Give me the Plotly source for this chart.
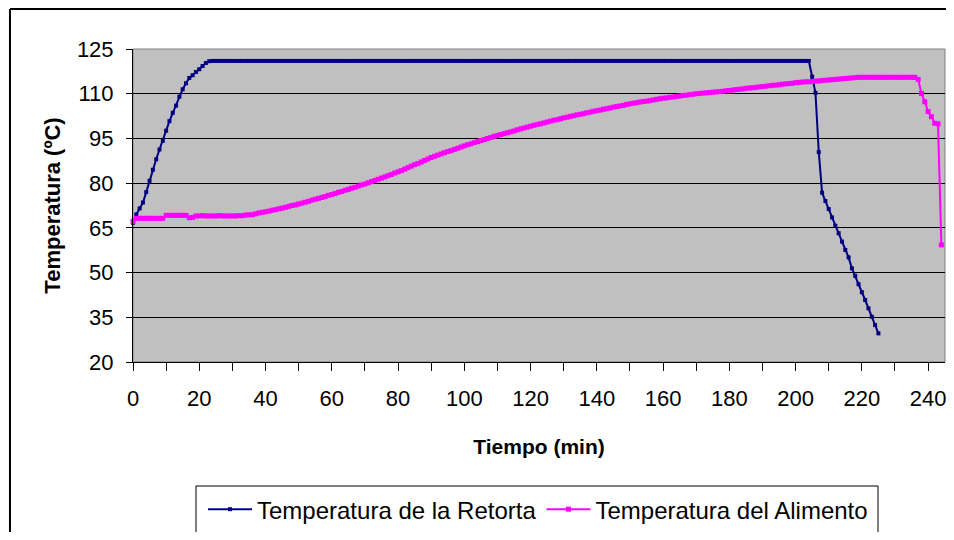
import plotly.graph_objects as go

# ---------------- data ----------------
minutes_retorta = list(range(0, 226))
retorta = [
    66.7, 69.5, 71.5, 73.5, 77.0, 80.8, 84.5, 88.0, 91.3, 94.2,
    97.6, 100.8, 103.6, 106.0, 109.0, 111.5, 113.5, 115.3, 116.2, 117.3,
    118.2, 119.3, 120.3, 120.9, 121.0,
    121, 121, 121, 121, 121, 121, 121, 121, 121, 121,
    121, 121, 121, 121, 121, 121, 121, 121, 121, 121,
    121, 121, 121, 121, 121, 121, 121, 121, 121, 121,
    121, 121, 121, 121, 121, 121, 121, 121, 121, 121,
    121, 121, 121, 121, 121, 121, 121, 121, 121, 121,
    121, 121, 121, 121, 121, 121, 121, 121, 121, 121,
    121, 121, 121, 121, 121, 121, 121, 121, 121, 121,
    121, 121, 121, 121, 121, 121, 121, 121, 121, 121,
    121, 121, 121, 121, 121, 121, 121, 121, 121, 121,
    121, 121, 121, 121, 121, 121, 121, 121, 121, 121,
    121, 121, 121, 121, 121, 121, 121, 121, 121, 121,
    121, 121, 121, 121, 121, 121, 121, 121, 121, 121,
    121, 121, 121, 121, 121, 121, 121, 121, 121, 121,
    121, 121, 121, 121, 121, 121, 121, 121, 121, 121,
    121, 121, 121, 121, 121, 121, 121, 121, 121, 121,
    121, 121, 121, 121, 121, 121, 121, 121, 121, 121,
    121, 121, 121, 121, 121, 121, 121, 121, 121, 121,
    121, 121, 121, 121, 121, 121, 121, 121, 121, 121,
    115.7, 110.3, 90.4, 76.8, 74.0, 71.3, 68.5, 65.7, 63.2, 60.4,
    57.6, 55.1, 51.4, 48.9, 46.1, 43.4, 40.8, 38.0, 35.2, 32.4,
    29.6,
]

minutes_alimento = list(range(0, 245))
alimento = [
    67.2, 68.2, 68.2, 68.2, 68.2, 68.2, 68.2, 68.2, 68.2, 68.2,
    69.2, 69.2, 69.2, 69.2, 69.2, 69.2, 69.2, 68.4, 68.5, 69.0,
    69.0, 69.1, 69.0, 69.0, 69.0, 69.0, 69.1, 69.0, 69.0, 69.0,
    69.0, 69.0, 69.1, 69.1, 69.3, 69.4, 69.4, 69.7, 70.0, 70.2,
    70.4, 70.6, 70.9, 71.1, 71.4, 71.6, 71.9, 72.2, 72.5, 72.7,
    73.0, 73.3, 73.6, 73.9, 74.3, 74.6, 74.9, 75.2, 75.5, 75.9,
    76.2, 76.5, 76.9, 77.2, 77.6, 77.9, 78.3, 78.6, 79.0, 79.4,
    79.7, 80.1, 80.5, 80.9, 81.3, 81.7, 82.1, 82.5, 82.9, 83.4,
    83.8, 84.2, 84.7, 85.2, 85.7, 86.2, 86.6, 87.1, 87.6, 88.1,
    88.6, 89.0, 89.4, 89.8, 90.2, 90.6, 90.9, 91.3, 91.7, 92.1,
    92.5, 92.9, 93.2, 93.6, 93.9, 94.3, 94.6, 95.0, 95.3, 95.7,
    96.0, 96.3, 96.6, 96.9, 97.2, 97.5, 97.9, 98.2, 98.5, 98.8,
    99.1, 99.4, 99.7, 99.9, 100.2, 100.5, 100.8, 101.1, 101.3, 101.6,
    101.9, 102.1, 102.4, 102.6, 102.9, 103.1, 103.3, 103.6, 103.8, 104.1,
    104.3, 104.5, 104.8, 105.0, 105.2, 105.5, 105.7, 105.9, 106.1, 106.4,
    106.6, 106.8, 107.0, 107.2, 107.4, 107.5, 107.7, 107.9, 108.1, 108.3,
    108.5, 108.6, 108.8, 108.9, 109.1, 109.2, 109.4, 109.5, 109.7, 109.8,
    110.0, 110.1, 110.2, 110.3, 110.4, 110.5, 110.6, 110.7, 110.8, 111.0,
    111.1, 111.2, 111.4, 111.5, 111.6, 111.8, 111.9, 112.0, 112.1, 112.3,
    112.4, 112.5, 112.7, 112.8, 112.9, 113.0, 113.2, 113.3, 113.4, 113.5,
    113.7, 113.8, 113.9, 114.0, 114.0, 114.1, 114.2, 114.3, 114.4, 114.5,
    114.6, 114.7, 114.8, 114.9, 115.0, 115.1, 115.2, 115.3, 115.4, 115.5,
    115.5, 115.5, 115.5, 115.5, 115.5, 115.5, 115.5, 115.5, 115.5, 115.5,
    115.5, 115.5, 115.5, 115.5, 115.5, 115.5, 115.5, 114.8, 110.1, 107.3,
    104.0, 102.3, 100.1, 99.9, 59.3,
]

x_tick_values = [0, 20, 40, 60, 80, 100, 120, 140, 160, 180, 200, 220, 240]
y_tick_values = [20, 35, 50, 65, 80, 95, 110, 125]

# ---------------- figure ----------------
FONT = "Arial, 'Liberation Sans', sans-serif"

fig = go.Figure()
fig.add_trace(go.Scatter(
    x=minutes_retorta, y=retorta, mode="lines+markers",
    name="Temperatura de la Retorta",
    line=dict(color="#000080", width=2),
    marker=dict(symbol="square", size=4, color="#000080"),
    cliponaxis=False,
))
fig.add_trace(go.Scatter(
    x=minutes_alimento, y=alimento, mode="lines+markers",
    name="Temperatura del Alimento",
    line=dict(color="#FF00FF", width=2),
    marker=dict(symbol="square", size=5, color="#FF00FF"),
    cliponaxis=False,
))

fig.update_layout(
    # the page body adds an 8px margin; the figure is sized so that it fits
    # the 954x540 window, and the plot area lands at x 133..945, y 49..362
    width=946, height=524,
    margin=dict(l=125, r=9, t=41, b=170, autoexpand=False),
    paper_bgcolor="white",
    plot_bgcolor="#C0C0C0",
    font=dict(family=FONT, color="black"),
    showlegend=True,
    legend=dict(
        orientation="h",
        x=0.0862, y=-0.3996, xanchor="left", yanchor="top",
        borderwidth=0, bgcolor="rgba(0,0,0,0)",
        itemwidth=44,
        font=dict(family=FONT, size=24, color="black"),
    ),
    xaxis=dict(
        range=[0, 245.1], automargin=False,
        tickmode="array", tickvals=x_tick_values,
        ticks="outside", ticklen=8, tickcolor="black", tickwidth=1,
        minor=dict(dtick=10, tick0=0, ticks="outside", ticklen=8,
                   tickcolor="black", showgrid=False),
        showline=True, linecolor="black", linewidth=1,
        showgrid=False, zeroline=False,
        tickfont=dict(family=FONT, size=22, color="black"),
        ticklabelstandoff=9,
        title=dict(text="<b>Tiempo (min)</b>",
                   font=dict(family=FONT, size=21, color="black"),
                   standoff=28),
    ),
    yaxis=dict(
        range=[20, 125], automargin=False,
        tickmode="array", tickvals=y_tick_values,
        ticks="outside", ticklen=6, tickcolor="black", tickwidth=1,
        showline=True, linecolor="black", linewidth=1,
        showgrid=True, gridcolor="black", gridwidth=1,
        zeroline=False,
        tickfont=dict(family=FONT, size=22, color="black"),
        ticklabelstandoff=8,
        title=dict(text="<b>Temperatura (ºC)</b>",
                   font=dict(family=FONT, size=22, color="black"),
                   standoff=10),
    ),
    shapes=[
        # gray plot-area frame (top / right)
        dict(type="rect", xref="paper", yref="paper", x0=0, x1=1, y0=0, y1=1,
             line=dict(color="#808080", width=1), layer="between"),
        # legend frame
        dict(type="rect", xref="paper", yref="paper",
             x0=0.0776, x1=0.9175, y0=-0.5463, y1=-0.3962,
             line=dict(color="black", width=1), fillcolor="rgba(0,0,0,0)",
             layer="above"),
        # outer chart border: top edge and left edge
        dict(type="line", xref="paper", yref="paper",
             x0=-0.1515, x1=1.2, y0=1.1278, y1=1.1278,
             line=dict(color="black", width=2), layer="above"),
        dict(type="line", xref="paper", yref="paper",
             x0=-0.1515, x1=-0.1515, y0=-0.8, y1=1.1278,
             line=dict(color="black", width=2), layer="above"),
    ],
)

fig.write_html("out.html")
